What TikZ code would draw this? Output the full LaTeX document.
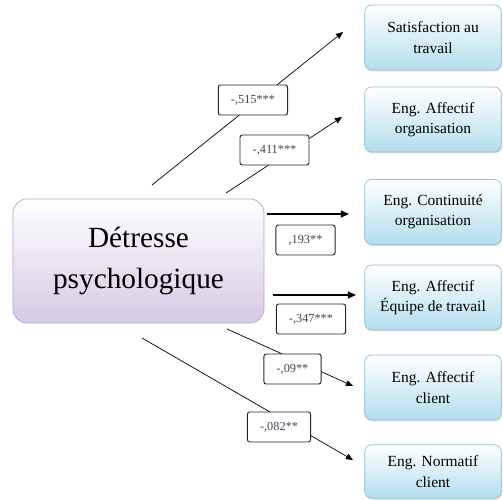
\documentclass[tikz,border=0pt]{standalone}
\usepackage{fontspec}
\setmainfont{Liberation Serif}
\usetikzlibrary{arrows.meta,shadows}

\definecolor{lavend}{rgb}{0.84,0.79,0.90}
\definecolor{lavendline}{rgb}{0.72,0.64,0.82}
\definecolor{paleblue}{rgb}{0.70,0.87,0.93}
\definecolor{blueline}{rgb}{0.55,0.76,0.84}
\definecolor{coeftext}{rgb}{0.30,0.25,0.35}

\begin{document}
\begin{tikzpicture}[x=0.03cm,y=-0.03cm]
	
	% styles for the boxes and the arrows
	\tikzset{
		mainbox/.style={rounded corners=12pt, draw=lavendline, line width=0.6pt,
			top color=white, bottom color=lavend, minimum width=7.53cm, minimum height=3.72cm,
			align=center, font=\fontsize{25}{35}\selectfont},
		outbox/.style={rounded corners=6pt, draw=blueline, line width=0.6pt,
			top color=white, bottom color=paleblue, minimum width=4.1cm, minimum height=1.95cm,
			align=center, font=\fontsize{13.2}{17.5}\selectfont,
			drop shadow={opacity=0.25, shadow xshift=0.6pt, shadow yshift=-1.2pt}},
		coef/.style={rounded corners=2pt, draw=black!85, line width=0.8pt, fill=white,
			minimum height=0.9cm, inner xsep=0.38cm, text=coeftext, font=\fontsize{10.5}{12}\selectfont},
		path/.style={draw=black, line width=0.6pt, -{Triangle[length=6pt,width=5pt]}},
		thickpath/.style={draw=black, line width=1.1pt, -{Triangle[length=7pt,width=6pt]}}
	}
	
	\useasboundingbox (0,0) rectangle (503,499);
	
	% Draw the source box
	\node[mainbox] (detresse) at (138.5,261) {D\'etresse\\psychologique};
	
	% Draw the outcome boxes
	\node[outbox] (satisf) at (433,37.5) {Satisfaction au\\travail};
	\node[outbox] (affOrg) at (433,119.5) {Eng. Affectif\\organisation};
	\node[outbox] (contOrg) at (433,212) {Eng. Continuit\'e\\organisation};
	\node[outbox] (affEq) at (433,297.5) {Eng. Affectif\\\'Equipe de travail};
	\node[outbox] (affCli) at (433,387.5) {Eng. Affectif\\client};
	\node[outbox, minimum height=1.6cm] (normCli) at (433,471.5) {Eng. Normatif\\client};
	
	% start and end points of the arrows
	\coordinate (s1) at (152,185);  \coordinate (e1) at (343,32);
	\coordinate (s2) at (226,193);  \coordinate (e2) at (342,117);
	\coordinate (s3) at (267,214);  \coordinate (e3) at (349,214);
	\coordinate (s4) at (273,295);  \coordinate (e4) at (356,295);
	\coordinate (s5) at (227,329);  \coordinate (e5) at (353,386);
	\coordinate (s6) at (142,338);  \coordinate (e6) at (353,460);
	
	% Draw the arrows
	\draw[path] (s1) -- (e1);
	\draw[path] (s2) -- (e2);
	\draw[thickpath] (s3) -- (e3);
	\draw[thickpath] (s4) -- (e4);
	\draw[path] (s5) -- (e5);
	\draw[path] (s6) -- (e6);
	
	% coefficients on top of the arrows
	\node[coef] (c1) at (253,100) {-,515***};
	\node[coef] (c2) at (274.5,150) {-,411***};
	\node[coef] (c3) at (305.5,240) {,193**};
	\node[coef] (c4) at (311,319) {-,347***};
	\node[coef] (c5) at (292.5,369) {-,09**};
	\node[coef] (c6) at (279,427) {-,082**};
	
\end{tikzpicture}
\end{document}
